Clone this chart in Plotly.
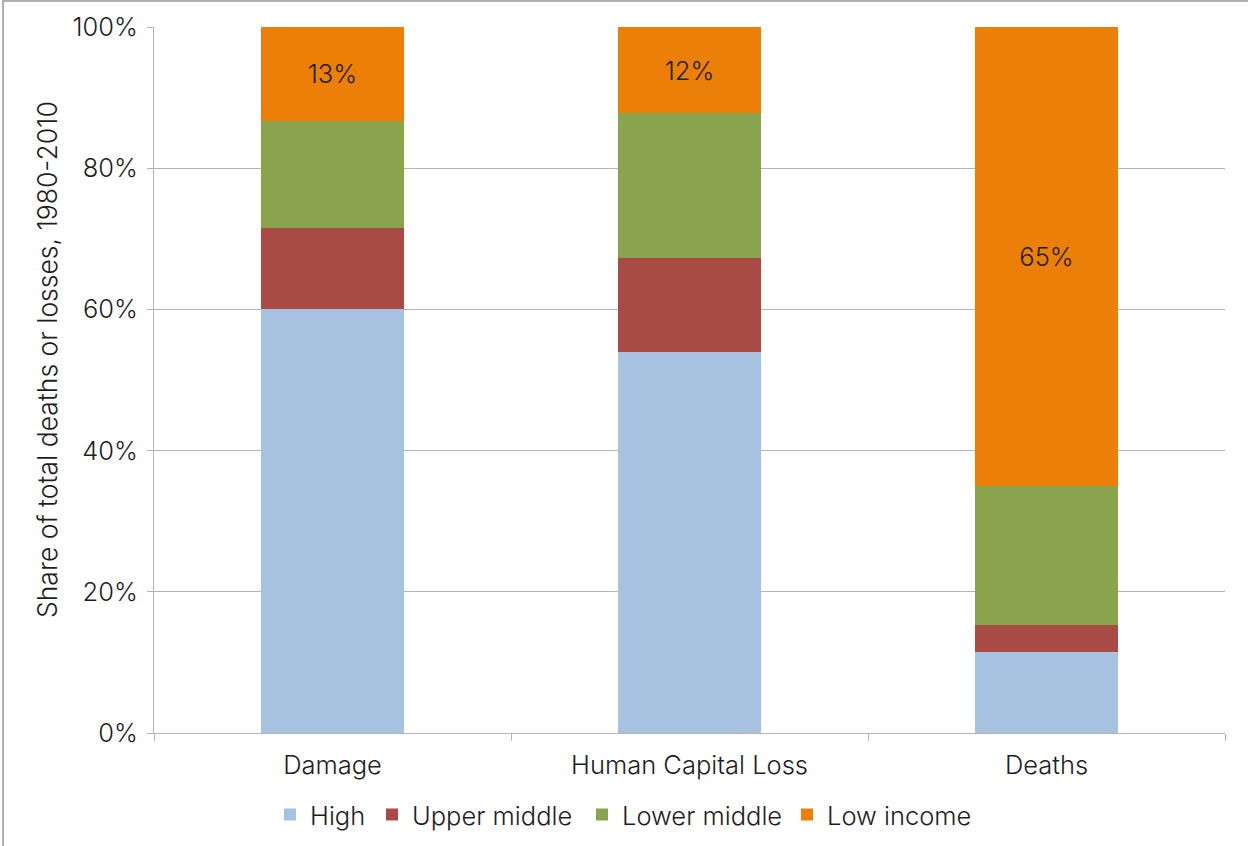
import plotly.graph_objects as go

categories = ["Damage", "Human Capital Loss", "Deaths"]
high = [60.0, 54.0, 11.5]
upper_middle = [11.5, 13.3, 3.8]
lower_middle = [15.2, 20.5, 19.7]
low_income = [13.3, 12.2, 65.0]

series_names = ["High", "Upper middle", "Lower middle", "Low income"]
colors = ["#A7C1E0", "#A74B44", "#8AA44E", "#EC7F07"]
legend_ids = ["legend", "legend2", "legend3", "legend4"]
legend_text_x = [310, 412, 622, 827]  # pixel x where each legend label starts

FONT = "Inter"
WEIGHT = 300
FS = 25.5
TXT = "#1E1E1E"
GRID = "#B4B4B4"

def fnt(size=FS):
    return dict(family=FONT, size=size, color=TXT, weight=WEIGHT)

fig = go.Figure()
for name, vals, col, lg in zip(series_names, [high, upper_middle, lower_middle, low_income], colors, legend_ids):
    kw = {}
    if name == "Low income":
        kw = dict(text=[f"{v:.0f}%" for v in vals], textposition="inside",
                  insidetextanchor="middle", textangle=0, textfont=fnt())
    fig.add_trace(go.Bar(x=categories, y=vals, name=name, legend=lg, showlegend=True,
                         marker=dict(color=col, line=dict(width=0)),
                         hoverinfo="x+y+name", **kw))

W, H = 1248, 846
L, R, T, B = 154, 23, 27, 113
pw, ph = W - L - R, H - T - B

def px_x(x):
    return (x - L) / pw

def px_y(y):
    return (H - B - y) / ph

legend_layout = {}
for lg, tx in zip(legend_ids, legend_text_x):
    legend_layout[lg] = dict(orientation="h", xref="container", yref="container",
                             x=(tx - 40) / W, y=1 - 815 / H, xanchor="left", yanchor="middle",
                             font=fnt(), itemwidth=30, bgcolor="rgba(0,0,0,0)", visible=True)

fig.update_layout(
    width=W, height=H,
    showlegend=True,
    barmode="stack", bargap=0.597,
    paper_bgcolor="white", plot_bgcolor="white",
    margin=dict(l=L, r=R, t=T, b=B, autoexpand=False),
    font=fnt(),
    uniformtext=dict(minsize=FS, mode="show"),
    xaxis=dict(showline=True, linecolor=GRID, linewidth=1, ticks="outside", tickson="boundaries",
               ticklen=7, tickcolor=GRID, showgrid=False, ticklabelstandoff=9,
               tickfont=fnt()),
    yaxis=dict(range=[0, 100], dtick=20, ticksuffix="%", showline=True, linecolor=GRID, linewidth=1,
               ticks="outside", ticklen=6, tickcolor=GRID, showgrid=True, gridcolor=GRID, gridwidth=1,
               tickfont=fnt(), zeroline=False, ticklabelstandoff=4),
    annotations=[
        dict(text="Share of total deaths or losses, 1980-2010", xref="paper", yref="paper",
             x=px_x(47), y=px_y(360), textangle=-90, showarrow=False, xanchor="center", yanchor="middle",
             font=fnt(26.5)),
    ],
    shapes=[
        dict(type="line", xref="paper", yref="paper", x0=px_x(2), x1=px_x(W), y0=px_y(1), y1=px_y(1),
             line=dict(color="#B0B0B0", width=2)),
        dict(type="line", xref="paper", yref="paper", x0=px_x(3), x1=px_x(3), y0=px_y(0), y1=px_y(H),
             line=dict(color="#B0B0B0", width=2)),
    ],
    **legend_layout,
)

fig.write_html("out.html", config={"displayModeBar": False},
               post_script="document.body.style.margin='0px';document.body.style.overflow='hidden';")
